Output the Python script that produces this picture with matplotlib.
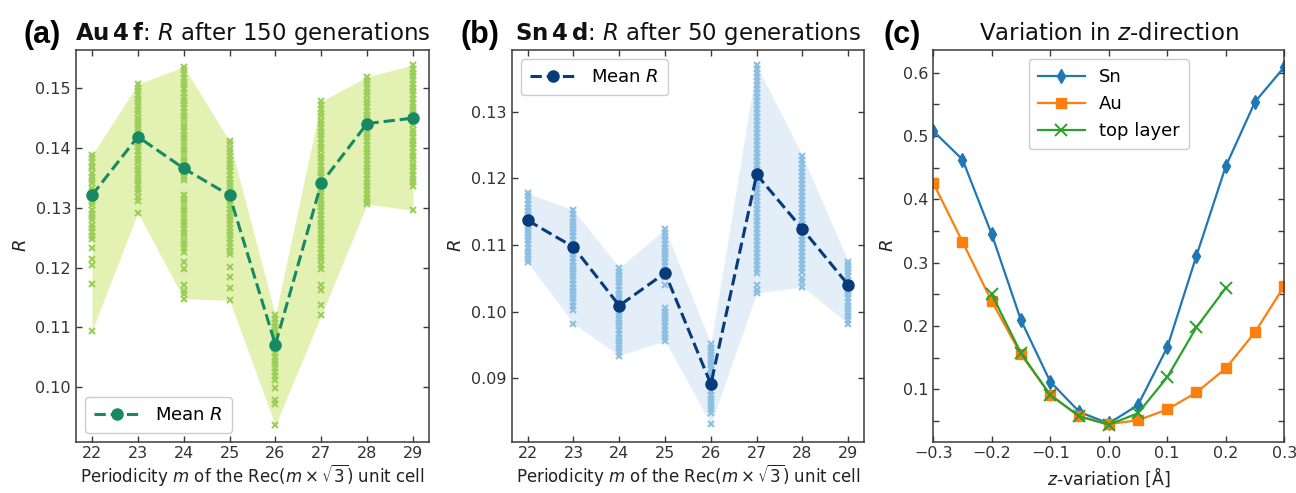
import numpy as np
import matplotlib; matplotlib.use('Agg')
import matplotlib.pyplot as plt
from matplotlib.ticker import MultipleLocator

plt.rcParams['font.family'] = ['DejaVu Sans']
plt.rcParams['mathtext.fontset'] = 'dejavusans'

# ---- data ----
m_vals = [22, 23, 24, 25, 26, 27, 28, 29]

au_mean = [0.1321, 0.1419, 0.1366, 0.1321, 0.1071, 0.1341, 0.1441, 0.1450]
au_runs = [
    [0.1388, 0.1383, 0.1377, 0.1370, 0.1366, 0.1359, 0.1352, 0.1347, 0.1341, 0.1333, 0.1328, 0.1322, 0.1315, 0.1309,
     0.1304, 0.1297, 0.1290, 0.1285, 0.1279, 0.1272, 0.1266, 0.1259, 0.1253, 0.1247, 0.1232, 0.1215, 0.1205, 0.1172, 0.1094],
    [0.1507, 0.1501, 0.1495, 0.1488, 0.1482, 0.1477, 0.1470, 0.1463, 0.1458, 0.1451, 0.1445, 0.1438, 0.1433, 0.1426,
     0.1420, 0.1414, 0.1407, 0.1401, 0.1395, 0.1388, 0.1382, 0.1376, 0.1369, 0.1363, 0.1357, 0.1350, 0.1344, 0.1338,
     0.1332, 0.1326, 0.1318, 0.1312, 0.1292],
    [0.1536, 0.1530, 0.1524, 0.1517, 0.1511, 0.1505, 0.1498, 0.1492, 0.1486, 0.1479, 0.1473, 0.1467, 0.1460, 0.1454,
     0.1448, 0.1441, 0.1435, 0.1429, 0.1422, 0.1416, 0.1410, 0.1403, 0.1397, 0.1391, 0.1384, 0.1378, 0.1371, 0.1365,
     0.1359, 0.1352, 0.1346, 0.1321, 0.1315, 0.1309, 0.1302, 0.1296, 0.1290, 0.1283, 0.1277, 0.1271, 0.1264, 0.1258,
     0.1252, 0.1245, 0.1239, 0.1232, 0.1226, 0.1209, 0.1197, 0.1171, 0.1160, 0.1155, 0.1148],
    [0.1412, 0.1406, 0.1399, 0.1393, 0.1387, 0.1380, 0.1374, 0.1368, 0.1361, 0.1355, 0.1349, 0.1342, 0.1336, 0.1330,
     0.1323, 0.1317, 0.1311, 0.1304, 0.1298, 0.1292, 0.1285, 0.1279, 0.1273, 0.1266, 0.1260, 0.1254, 0.1247, 0.1241,
     0.1235, 0.1228, 0.1222, 0.1201, 0.1184, 0.1166, 0.1145],
    [0.1120, 0.1114, 0.1108, 0.1101, 0.1095, 0.1089, 0.1082, 0.1076, 0.1070, 0.1063, 0.1057, 0.1051, 0.1044, 0.1038,
     0.1032, 0.1025, 0.1019, 0.1012, 0.0999, 0.0979, 0.0972, 0.0936],
    [0.1478, 0.1472, 0.1465, 0.1459, 0.1453, 0.1446, 0.1440, 0.1434, 0.1427, 0.1421, 0.1415, 0.1408, 0.1402, 0.1396,
     0.1389, 0.1383, 0.1377, 0.1370, 0.1364, 0.1358, 0.1351, 0.1345, 0.1339, 0.1332, 0.1326, 0.1320, 0.1313, 0.1307,
     0.1301, 0.1294, 0.1288, 0.1282, 0.1275, 0.1269, 0.1263, 0.1256, 0.1250, 0.1244, 0.1237, 0.1231, 0.1225, 0.1218,
     0.1212, 0.1205, 0.1198, 0.1171, 0.1163, 0.1138, 0.1120],
    [0.1519, 0.1513, 0.1507, 0.1500, 0.1494, 0.1488, 0.1481, 0.1475, 0.1469, 0.1462, 0.1456, 0.1450, 0.1443, 0.1437,
     0.1431, 0.1424, 0.1418, 0.1412, 0.1405, 0.1399, 0.1393, 0.1386, 0.1380, 0.1374, 0.1367, 0.1361, 0.1355, 0.1348,
     0.1342, 0.1336, 0.1329, 0.1323, 0.1317, 0.1311, 0.1306],
    [0.1539, 0.1533, 0.1526, 0.1520, 0.1514, 0.1507, 0.1501, 0.1495, 0.1488, 0.1482, 0.1476, 0.1469, 0.1463, 0.1457,
     0.1450, 0.1444, 0.1438, 0.1431, 0.1425, 0.1419, 0.1412, 0.1406, 0.1400, 0.1393, 0.1387, 0.1381, 0.1374, 0.1368,
     0.1362, 0.1355, 0.1349, 0.1343, 0.1336, 0.1296],
]

sn_mean = [0.1137, 0.1097, 0.1009, 0.1058, 0.0891, 0.1206, 0.1124, 0.1040]
sn_runs = [
    [0.1178, 0.1173, 0.1167, 0.1162, 0.1156, 0.1151, 0.1145, 0.1140, 0.1134, 0.1129, 0.1123, 0.1118, 0.1112, 0.1107,
     0.1101, 0.1096, 0.1090, 0.1085, 0.1079, 0.1074],
    [0.1152, 0.1146, 0.1141, 0.1135, 0.1130, 0.1124, 0.1119, 0.1113, 0.1108, 0.1102, 0.1097, 0.1091, 0.1086, 0.1080,
     0.1075, 0.1069, 0.1064, 0.1058, 0.1053, 0.1047, 0.1042, 0.1036, 0.1031, 0.1025, 0.1020, 0.1014, 0.1008, 0.1002, 0.0982],
    [0.1066, 0.1060, 0.1055, 0.1049, 0.1044, 0.1038, 0.1033, 0.1027, 0.1022, 0.1016, 0.1011, 0.1005, 0.1000, 0.0994,
     0.0989, 0.0983, 0.0978, 0.0972, 0.0967, 0.0961, 0.0956, 0.0950, 0.0945, 0.0939, 0.0934],
    [0.1124, 0.1118, 0.1113, 0.1107, 0.1102, 0.1096, 0.1091, 0.1085, 0.1080, 0.1074, 0.1069, 0.1063, 0.1058, 0.1052,
     0.1040, 0.1006, 0.1000, 0.0995, 0.0989, 0.0984, 0.0978, 0.0973, 0.0967, 0.0962, 0.0956],
    [0.0952, 0.0946, 0.0941, 0.0935, 0.0930, 0.0924, 0.0919, 0.0913, 0.0908, 0.0902, 0.0897, 0.0891, 0.0886, 0.0880,
     0.0875, 0.0869, 0.0864, 0.0858, 0.0853, 0.0847, 0.0831],
    [0.1370, 0.1364, 0.1358, 0.1352, 0.1346, 0.1340, 0.1334, 0.1328, 0.1322, 0.1316, 0.1310, 0.1304, 0.1298, 0.1292,
     0.1286, 0.1280, 0.1274, 0.1268, 0.1262, 0.1256, 0.1250, 0.1244, 0.1238, 0.1232, 0.1226, 0.1220, 0.1214, 0.1208,
     0.1202, 0.1196, 0.1190, 0.1184, 0.1178, 0.1172, 0.1166, 0.1160, 0.1154, 0.1148, 0.1142, 0.1136, 0.1130, 0.1124,
     0.1118, 0.1112, 0.1106, 0.1100, 0.1094, 0.1088, 0.1082, 0.1076, 0.1070, 0.1064, 0.1058, 0.1040, 0.1033, 0.1028],
    [0.1234, 0.1228, 0.1222, 0.1216, 0.1210, 0.1204, 0.1198, 0.1192, 0.1186, 0.1180, 0.1174, 0.1168, 0.1162, 0.1156,
     0.1150, 0.1144, 0.1138, 0.1132, 0.1126, 0.1120, 0.1114, 0.1108, 0.1102, 0.1096, 0.1090, 0.1084, 0.1078, 0.1072,
     0.1066, 0.1060, 0.1050, 0.1044, 0.1037],
    [0.1075, 0.1070, 0.1064, 0.1059, 0.1053, 0.1048, 0.1042, 0.1037, 0.1031, 0.1026, 0.1020, 0.1015, 0.1009, 0.1004,
     0.0998, 0.0993, 0.0987, 0.0982],
]

z_var = [-0.3, -0.25, -0.2, -0.15, -0.1, -0.05, 0.0, 0.05, 0.1, 0.15, 0.2, 0.25, 0.3]
r_sn = [0.508, 0.463, 0.345, 0.209, 0.112, 0.064, 0.046, 0.075, 0.166, 0.311, 0.452, 0.554, 0.609]
r_au = [0.426, 0.333, 0.239, 0.155, 0.091, 0.057, 0.045, 0.051, 0.068, 0.095, 0.133, 0.190, 0.263]
z_top = [-0.2, -0.15, -0.1, -0.05, 0.0, 0.05, 0.1, 0.15, 0.2]
r_top = [0.250, 0.157, 0.091, 0.057, 0.044, 0.062, 0.119, 0.198, 0.260]

SPINE = '#3a3a3a'
XLAB = r'Periodicity $m$ of the Rec($m \times \sqrt{3}$) unit cell'

fig = plt.figure(figsize=(12.96, 4.93), dpi=100)
axa = fig.add_axes([0.0586, 0.1034, 0.2724, 0.7951])
axb = fig.add_axes([0.3948, 0.1034, 0.2721, 0.7951])
axc = fig.add_axes([0.7201, 0.1034, 0.2708, 0.7951])

def style(ax):
    ax.tick_params(direction='in', top=True, right=True, length=4, width=1, color=SPINE,
                   labelsize=11.5, labelcolor='#333333', which='both')
    ax.tick_params(axis='x', pad=3)
    for s in ax.spines.values():
        s.set_color(SPINE); s.set_linewidth(1.1)

def runs_panel(ax, runs, mean, fillc, ptc, linec, title, ylim, legloc):
    lo = [min(r) for r in runs]; hi = [max(r) for r in runs]
    ax.fill_between(m_vals, lo, hi, color=fillc, lw=0, zorder=1)
    for m, r in zip(m_vals, runs):
        ax.plot([m] * len(r), r, ls='none', marker='x', ms=4.5, mew=1.5, color=ptc, zorder=2)
    ax.plot(m_vals, mean, ls='--', lw=2.2, marker='o', ms=8, color=linec, label='Mean $R$', zorder=3)
    ax.set_xlim(21.65, 29.35); ax.set_ylim(*ylim)
    ax.set_xticks(m_vals)
    ax.yaxis.set_major_locator(MultipleLocator(0.01))
    ax.yaxis.set_major_formatter(plt.FormatStrFormatter('%.2f'))
    ax.set_xlabel(XLAB, fontsize=12, color='#222222', labelpad=0.5)
    ax.set_ylabel('$R$', fontsize=13, color='#222222', labelpad=4)
    ax.set_title(title, fontsize=16.5, pad=7, color='#111111')
    ax.legend(loc=legloc, fontsize=13, handlelength=2.6, borderpad=0.5, framealpha=1, edgecolor='#cccccc')
    style(ax)

runs_panel(axa, au_runs, au_mean, '#e3f2b2', '#9ccf5a', '#178a64',
           r'$\mathbf{Au\,4\,f}$: $R$ after 150 generations', (0.0908, 0.1564), 'lower left')
runs_panel(axb, sn_runs, sn_mean, '#e4eef8', '#8dbfe2', '#083b7c',
           r'$\mathbf{Sn\,4\,d}$: $R$ after 50 generations', (0.0804, 0.1393), 'upper left')

axc.plot(z_var, r_sn, marker='d', ms=7, lw=1.6, color='#1f77b4', label='Sn')
axc.plot(z_var, r_au, marker='s', ms=7.5, lw=1.6, color='#ff7f0e', label='Au')
axc.plot(z_top, r_top, marker='x', ms=8, mew=1.4, lw=1.6, color='#2ca02c', label='top layer')
axc.set_xlim(-0.3, 0.3); axc.set_ylim(0.0166, 0.636)
axc.xaxis.set_major_locator(MultipleLocator(0.1))
axc.yaxis.set_major_locator(MultipleLocator(0.1))
axc.yaxis.set_minor_locator(MultipleLocator(0.05))
axc.set_xlabel(r'$z$-variation [Å]', fontsize=12.5, color='#222222', labelpad=3)
axc.set_ylabel('$R$', fontsize=13, color='#222222', labelpad=4)
axc.set_title(r'Variation in $z$-direction', fontsize=16.5, pad=7, color='#111111')
axc.legend(loc='upper center', fontsize=13, handlelength=2.6, borderpad=0.5, framealpha=1, edgecolor='#cccccc')
style(axc)

for x, lab in ((0.018, '(a)'), (0.355, '(b)'), (0.682, '(c)')):
    fig.text(x, 0.93, lab, fontsize=22, fontweight='bold', family='Liberation Sans', va='center', ha='left')

fig.savefig('out.png', dpi=100)
